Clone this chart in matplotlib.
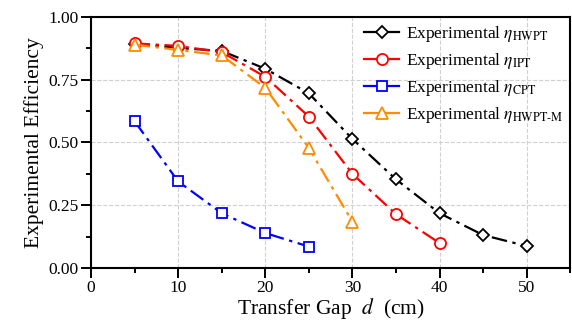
import numpy as np
import matplotlib.pyplot as plt
from matplotlib.ticker import MultipleLocator

plt.rcParams['font.family'] = ['Liberation Serif', 'DejaVu Serif']
plt.rcParams['mathtext.fontset'] = 'stix'

# gap (cm) and measured efficiency
gap_hwpt = [5, 10, 15, 20, 25, 30, 35, 40, 45, 50]
eff_hwpt = [0.893, 0.877, 0.865, 0.794, 0.696, 0.514, 0.353, 0.218, 0.131, 0.087]

gap_ipt = [5, 10, 15, 20, 25, 30, 35, 40]
eff_ipt = [0.895, 0.885, 0.860, 0.762, 0.603, 0.375, 0.214, 0.099]

gap_cpt = [5, 10, 15, 20, 25]
eff_cpt = [0.585, 0.345, 0.218, 0.139, 0.085]

gap_hwptm = [5, 10, 15, 20, 25, 30]
eff_hwptm = [0.890, 0.869, 0.847, 0.718, 0.478, 0.184]

fig = plt.figure(figsize=(5.72, 3.22), dpi=100)
ax = fig.add_axes([0.159, 0.168, 0.838, 0.779])

dash = (0, (7, 2.5, 1.5, 2.5))
ax.plot(gap_hwpt, eff_hwpt, ls=dash, color='black', marker='D', ms=6.5, mfc='white',
        mew=1.3, lw=1.6, label=r'Experimental $\eta_{\mathrm{HWPT}}$')
ax.plot(gap_ipt, eff_ipt, ls=dash, color='red', marker='o', ms=8, mfc='white',
        mew=1.3, lw=1.6, label=r'Experimental $\eta_{\mathrm{IPT}}$')
ax.plot(gap_cpt, eff_cpt, ls=dash, color='blue', marker='s', ms=7, mfc='white',
        mew=1.3, lw=1.6, label=r'Experimental $\eta_{\mathrm{CPT}}$')
ax.plot(gap_hwptm, eff_hwptm, ls=dash, color='darkorange', marker='^', ms=8.5, mfc='white',
        mew=1.3, lw=1.6, label=r'Experimental $\eta_{\mathrm{HWPT\text{-}M}}$')

ax.set_xlim(0, 55)
ax.set_ylim(0, 1.0)
ax.xaxis.set_major_locator(MultipleLocator(10))
ax.xaxis.set_minor_locator(MultipleLocator(5))
ax.yaxis.set_major_locator(MultipleLocator(0.25))
ax.yaxis.set_minor_locator(MultipleLocator(0.125))
ax.yaxis.set_major_formatter(plt.FormatStrFormatter('%.2f'))

ax.grid(True, which='major', ls='--', color='#d0d0d0', lw=0.8)
ax.tick_params(which='both', direction='out', top=False, right=False, labelsize=12.5,
               width=1.4)
ax.tick_params(which='major', length=7, pad=2)
ax.tick_params(which='minor', length=3.5)
for s in ax.spines.values():
    s.set_linewidth(1.5)

ax.set_xlabel(r'Transfer Gap  $d$  (cm)', fontsize=15.5, labelpad=0)
ax.set_ylabel('Experimental Efficiency', fontsize=15.5, labelpad=3)

leg = ax.legend(loc='upper right', frameon=False, fontsize=12.5, handlelength=2.0,
                handletextpad=0.4, labelspacing=0.4, borderaxespad=0.0)
for ln in leg.get_lines():
    ln.set_linestyle('-')

fig.savefig('out.png', dpi=100)
